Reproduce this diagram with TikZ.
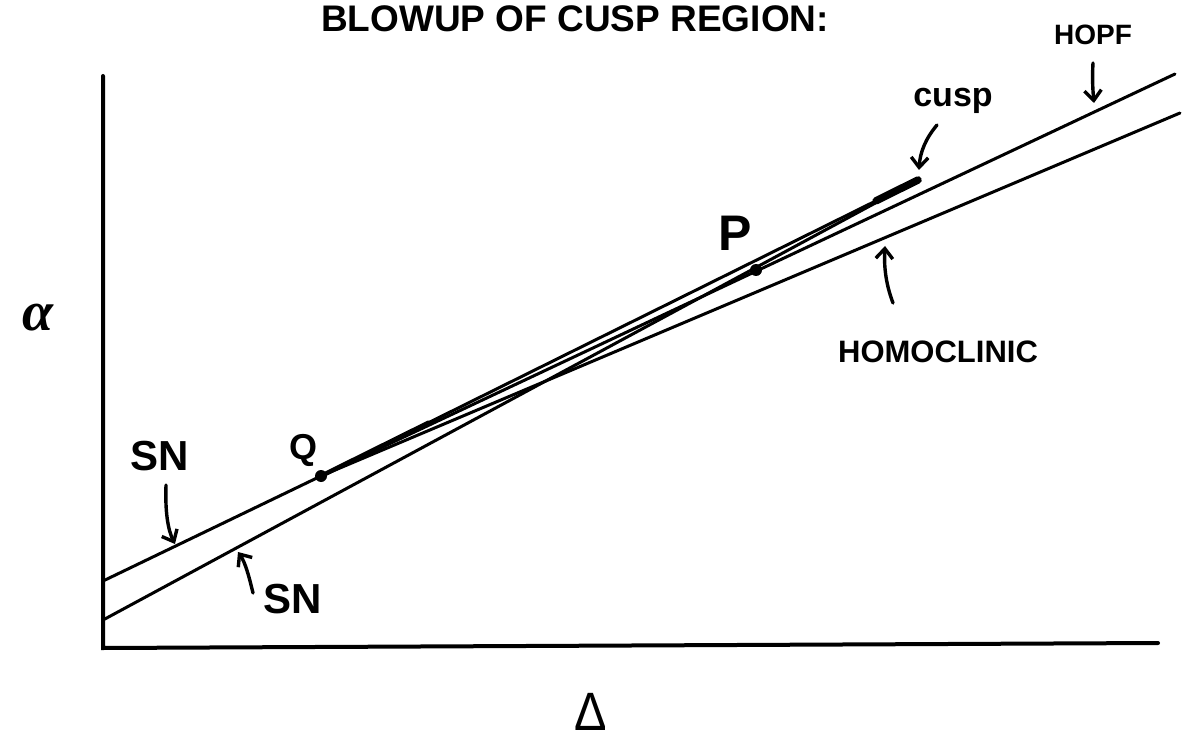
\documentclass[tikz,border=0pt]{standalone}
\usepackage{fontspec}
\setmainfont{Liberation Sans}
\newfontfamily\greekserif{Liberation Serif}
\usetikzlibrary{arrows.meta,calc}
\begin{document}
\begin{tikzpicture}[x=1pt,y=-1pt,
  curve/.style={line width=3pt, line cap=round, line join=round},
  axisline/.style={line width=4pt, line cap=round},
  pointer/.style={line width=3.4pt, line cap=round, -{Straight Barb[length=10pt,width=17pt]}},
  lbl/.style={inner sep=0pt, anchor=center},
  dotmark/.style={circle, fill=black, inner sep=0pt, minimum size=12pt}
]
\useasboundingbox (0,0) rectangle (1196,751);

% axes
\coordinate (ytop) at (103,76);
\coordinate (origin) at (103,648);
\coordinate (xend) at (1158,643);
\draw[axisline] (ytop) -- (origin) -- (xend);

% key points
\coordinate (snA) at (103,581);
\coordinate (snB) at (103,620);
\coordinate (cusp) at (918,180);
\coordinate (hopfEnd) at (1175,74);
\coordinate (homEnd) at (1180,113);
\node[dotmark] (Q) at (321,476) {};
\node[dotmark] (P) at (756,270) {};

% curves
\draw[curve] (snA) -- (Q.center) -- (cusp);
\draw[curve] (snB) -- (cusp);
\draw[curve] (Q.center) -- (hopfEnd);
\draw[curve] (Q.center) -- (homEnd);
\coordinate (cuspThick) at ($(Q.center)!0.93!(cusp)$);
\draw[line width=7.5pt, line cap=round] (cuspThick) -- (cusp);
\coordinate (qThick) at ($(Q.center)!0.18!(cusp)$);
\draw[line width=4.5pt, line cap=round] (Q.center) -- (qThick);

% labels
\node[lbl, font=\bfseries\fontsize{37}{40}\selectfont] (title) at (575,19) {BLOWUP OF CUSP REGION:};
\node[lbl, font=\bfseries\fontsize{28}{30}\selectfont] (hopf) at (1093,35) {HOPF};
\node[lbl, font=\bfseries\fontsize{34}{36}\selectfont] (cusplbl) at (953,101) {cusp};
\node[lbl, font=\bfseries\fontsize{50}{52}\selectfont] (plbl) at (735,233) {P};
\node[lbl, font=\bfseries\fontsize{31}{34}\selectfont] (homlbl) at (938,352) {HOMOCLINIC};
\node[lbl, font=\bfseries\fontsize{42}{44}\selectfont] (sn1) at (160,456) {SN};
\node[lbl, font=\bfseries\fontsize{36}{38}\selectfont] (qlbl) at (303,450) {Q};
\node[lbl, font=\bfseries\fontsize{42}{44}\selectfont] (sn2) at (293,599) {SN};
\node[lbl, font=\greekserif\bfseries\itshape\fontsize{56}{58}\selectfont] (alpha) at (38,318) {α};
\node[lbl, font=\fontsize{54}{56}\selectfont] (delta) at (591,712) {\scalebox{0.9}[1]{Δ}};

% pointer arrows
\coordinate (hopfA) at (1093,63);
\coordinate (hopfB) at (1094,103);
\draw[pointer] (hopfA) .. controls (1092,80) and (1093,92) .. (hopfB);
\coordinate (cuspA) at (937,125);
\coordinate (cuspB) at (919,170);
\draw[pointer] (cuspA) .. controls (926,138) and (920,152) .. (cuspB);
\coordinate (homA) at (893,303);
\coordinate (homB) at (885,246);
\draw[pointer] (homA) .. controls (885,282) and (884,264) .. (homB);
\coordinate (sn1A) at (166,485);
\coordinate (sn1B) at (175,544);
\draw[pointer] (sn1A) .. controls (165,512) and (168,530) .. (sn1B);
\coordinate (sn2A) at (253,593);
\coordinate (sn2B) at (238,552);
\draw[pointer] (sn2A) .. controls (249,576) and (245,562) .. (sn2B);
\end{tikzpicture}
\end{document}
